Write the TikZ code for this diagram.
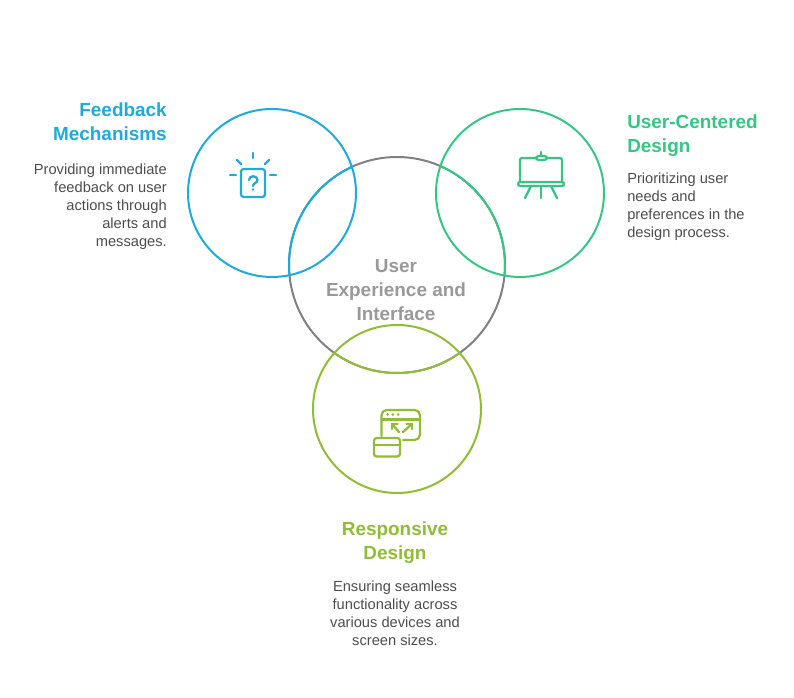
\documentclass[tikz,border=0pt]{standalone}
\usepackage{fontspec}
\setmainfont{Liberation Sans}
\definecolor{fbblue}{HTML}{1EAADC}
\definecolor{ucgreen}{HTML}{36C684}
\definecolor{rdolive}{HTML}{90BC36}
\definecolor{uxgray}{HTML}{808080}
\definecolor{uxtext}{HTML}{999999}
\definecolor{bodytext}{HTML}{4D4D4D}
\begin{document}
\begin{tikzpicture}[
    x=0.75pt, y=-0.75pt,
    ring/.style={
        circle,
        draw=#1,
        line width=1.5pt,
        minimum size=126pt,
        inner sep=0pt
    },
    heading/.style={
        font=\fontsize{14.2pt}{18pt}\selectfont\bfseries,
        inner sep=0pt,
        text=#1
    },
    body/.style={
        font=\fontsize{11pt}{13.5pt}\selectfont,
        inner sep=0pt,
        text=bodytext
    },
    icon/.style={
        draw=#1,
        line width=1.7pt,
        line cap=round,
        line join=round
    },
]
\useasboundingbox (0,0) rectangle (794,698);

% Circles
\node[ring=uxgray, minimum size=162pt] (ux) at (397,265) {};
\node[ring=fbblue] (feedback) at (272,193) {};
\node[ring=ucgreen] (centered) at (520,193) {};
\node[ring=rdolive] (responsive) at (397,409) {};

% Overlap arcs
\foreach \cx/\cy/\ringcol in {272/193/fbblue,520/193/ucgreen,397/409/rdolive} {
    \begin{scope}
        \clip (\cx,\cy) circle (63pt);
        \node[ring=\ringcol, minimum size=162pt] at (ux) {};
    \end{scope}
}

% Centre label
\node[heading=uxtext, align=center] (uxlabel) at (396,290) {User\\Experience and\\Interface};

% Feedback text
\node[heading=fbblue, align=right, anchor=north east] (fbtitle) at (167,103) {Feedback\\Mechanisms};
\node[body, align=right, anchor=north east] (fbtext) at (167,164) {Providing immediate\\feedback on user\\actions through\\alerts and\\messages.};

% User-centered text
\node[heading=ucgreen, align=left, anchor=north west] (uctitle) at (627,115) {User-Centered\\Design};
\node[body, align=left, anchor=north west] (uctext) at (627,173) {Prioritizing user\\needs and\\preferences in the\\design process.};

% Responsive text
\node[heading=rdolive, align=center] (rdtitle) at (395,543) {Responsive\\Design};
\node[body, align=center] (rdtext) at (395,613) {Ensuring seamless\\functionality across\\various devices and\\screen sizes.};

% Feedback icon
\draw[icon=fbblue, rounded corners=2pt] (241,169) rectangle (265,197);
\draw[icon=fbblue] (253,153) -- (253,158);
\draw[icon=fbblue] (230,175) -- (236,175);
\draw[icon=fbblue] (270,175) -- (276,175);
\draw[icon=fbblue] (237,160) -- (241,164);
\draw[icon=fbblue] (269,160) -- (265,164);
\draw[icon=fbblue] (249,180) .. controls (249,175) and (257.5,175) .. (257.5,180) .. controls (257.5,183) and (253,183) .. (253,186);
\fill[fbblue] (253,189.5) circle (1.1pt);

% Centered icon
\draw[icon=ucgreen, rounded corners=1.5pt] (520,182) -- (520,158) -- (562,158) -- (562,182);
\draw[icon=ucgreen, fill=white, rounded corners=1.5pt] (518,182) rectangle (564,186);
\draw[icon=ucgreen, fill=white, rounded corners=2pt] (536,156) rectangle (547,160);
\draw[icon=ucgreen] (541,152) -- (541,156);
\draw[icon=ucgreen] (541,186) -- (541,198);
\draw[icon=ucgreen] (531,186) -- (525,198);
\draw[icon=ucgreen] (551,186) -- (557,198);

% Responsive icon
\draw[icon=rdolive, rounded corners=4pt] (381.5,436) -- (381.5,410) -- (420,410) -- (420,440) -- (403,440);
\draw[icon=rdolive] (381.5,419.5) -- (420,419.5);
\foreach \dotx in {387.7,392.9,398.2} {
    \fill[rdolive] (\dotx,414.5) circle (1.1pt);
}
\draw[icon=rdolive] (392,424) -- (399,432);
\draw[icon=rdolive] (392,429) -- (392,424) -- (397.5,424);
\draw[icon=rdolive] (412,424) -- (403,432);
\draw[icon=rdolive] (406.5,424) -- (412,424) -- (412,429);
\draw[icon=rdolive, rounded corners=2pt] (374,438) rectangle (400,456.5);
\draw[icon=rdolive] (374,445) -- (400,445);

\end{tikzpicture}
\end{document}
